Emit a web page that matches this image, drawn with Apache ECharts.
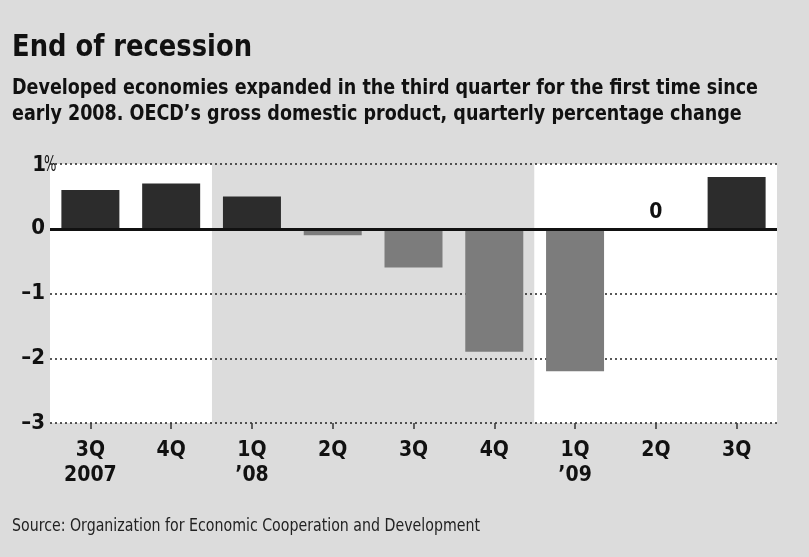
<!DOCTYPE html>
<html>
<head>
<meta charset="utf-8">
<script src="https://cdn.jsdelivr.net/npm/echarts@6/dist/echarts.min.js"></script>
<style>
html,body{margin:0;padding:0;background:#dcdcdc;}
#c{width:809px;height:557px;}
</style>
</head>
<body>
<div id="c"></div>
<script>
const categories = ['3Q\n2007', '4Q', '1Q\n\u201908', '2Q', '3Q', '4Q', '1Q\n\u201909', '2Q', '3Q'];
const gdpChange = [0.6, 0.7, 0.5, -0.1, -0.6, -1.9, -2.2, 0, 0.8];
const whiteBands = [1, 1, 0, 0, 0, 0, 1, 1, 1]; // 1 = unshaded year block (2007, 2009)
const yTicks = { min: -3, max: 1, step: 1 };
const titleText = 'End of recession';
const subtitleLines = ['Developed economies expanded in the third quarter for the first time since',
                       'early 2008. OECD\u2019s gross domestic product, quarterly percentage change'];
const sourceText = 'Source: Organization for Economic Cooperation and Development';
const labelledZeroIndex = 7;

const FONT = '"DejaVu Sans Condensed", "DejaVu Sans", sans-serif';

// measure helper to condense text horizontally to the reference width
const mctx = document.createElement('canvas').getContext('2d');
function fitScale(text, font, targetWidth) {
  mctx.font = font;
  return targetWidth / mctx.measureText(text).width;
}

const titleFont = 'bold 30px "DejaVu Sans Condensed", "DejaVu Sans", sans-serif';
const subFont = 'bold 21.5px "DejaVu Sans Condensed", "DejaVu Sans", sans-serif';
const srcFont = '17.5px "DejaVu Sans Condensed", "DejaVu Sans", sans-serif';
const yLabFont = 'bold 22px "DejaVu Sans Condensed", "DejaVu Sans", sans-serif';
const pctFont = '22px "DejaVu Sans Condensed", "DejaVu Sans", sans-serif';
const titleScale = fitScale(titleText, titleFont, 240);
const subScale = fitScale(subtitleLines[0], subFont, 746);
const srcScale = fitScale(sourceText, srcFont, 468);

function txt(id, text, font, x, y, sx, fill, align) {
  return { id: id, type: 'text', x: x, y: y, scaleX: sx, z: 10,
    style: { text: text, font: font, fill: fill, textAlign: align || 'left', textVerticalAlign: 'middle' } };
}

const chart = echarts.init(document.getElementById('c'), null, {renderer: 'canvas'});

const bgTop = whiteBands.map(w => w ? yTicks.max : '-');
const bgBottom = whiteBands.map(w => w ? yTicks.min : '-');

const dataItems = gdpChange.map((v, i) => {
  const item = { value: v, itemStyle: { color: v >= 0 ? '#2c2c2c' : '#7c7c7c' } };
  if (i === labelledZeroIndex) {
    item.label = { show: true, position: 'top', distance: 6, formatter: String(v),
      fontFamily: FONT, fontWeight: 'bold', fontSize: 21, color: '#111' };
  }
  return item;
});

chart.setOption({
  backgroundColor: '#dcdcdc',
  animation: false,
  graphic: [
    txt('t', titleText, titleFont, 12, 48, titleScale, '#111'),
    txt('s1', subtitleLines[0], subFont, 12, 88, subScale, '#111'),
    txt('s2', subtitleLines[1], subFont, 12, 114, subScale, '#111'),
    txt('src', sourceText, srcFont, 12, 526, srcScale, '#222')
  ],
  grid: { left: 50, right: 32, top: 164, bottom: 134, containLabel: false },
  xAxis: [
    { type: 'category', data: categories, boundaryGap: true,
      axisLine: { show: false, onZero: false },
      axisTick: { show: true, alignWithLabel: true, length: 6, lineStyle: { color: '#333', width: 1.5 } },
      axisLabel: { margin: 15, fontFamily: FONT, fontWeight: 'bold', fontSize: 21, lineHeight: 25, color: '#111' },
      z: 1.5 },
    { type: 'category', data: categories, show: false, boundaryGap: true }
  ],
  yAxis: [
    { type: 'value', min: yTicks.min, max: yTicks.max, interval: yTicks.step,
      axisLine: { show: false }, axisTick: { show: false },
      splitLine: { show: true, lineStyle: { type: [2, 3], color: '#222', width: 1.5 } },
      axisLabel: {
        margin: 5, fontFamily: FONT, fontWeight: 'bold', fontSize: 22, color: '#111',
        formatter: v => v === yTicks.max ? '' : (v < 0 ? '\u2013' + Math.abs(v) : String(v))
      },
      z: 1.5 }
  ],
  series: [
    { type: 'bar', xAxisIndex: 1, stack: 'bg', data: bgTop, barWidth: '101%',
      itemStyle: { color: '#ffffff' }, silent: true, z: 1 },
    { type: 'bar', xAxisIndex: 1, stack: 'bg', data: bgBottom, barWidth: '101%',
      itemStyle: { color: '#ffffff' }, silent: true, z: 1 },
    { type: 'bar', xAxisIndex: 0, data: dataItems, barWidth: 58, z: 3,
      markLine: { silent: true, symbol: 'none', label: { show: false },
        lineStyle: { color: '#111', width: 3, type: 'solid' },
        data: [{ yAxis: 0 }] } }
  ]
});

// top tick label "1%" with the percent sign hanging past the number column
const topY = chart.convertToPixel({ yAxisIndex: 0 }, yTicks.max);
chart.setOption({
  graphic: [
    txt('ymax', String(yTicks.max), yLabFont, 46, topY + 1, 1, '#111', 'right'),
    txt('ypct', '%', pctFont, 44, topY + 1, 0.66, '#111', 'left')
  ]
});
</script>
</body>
</html>
